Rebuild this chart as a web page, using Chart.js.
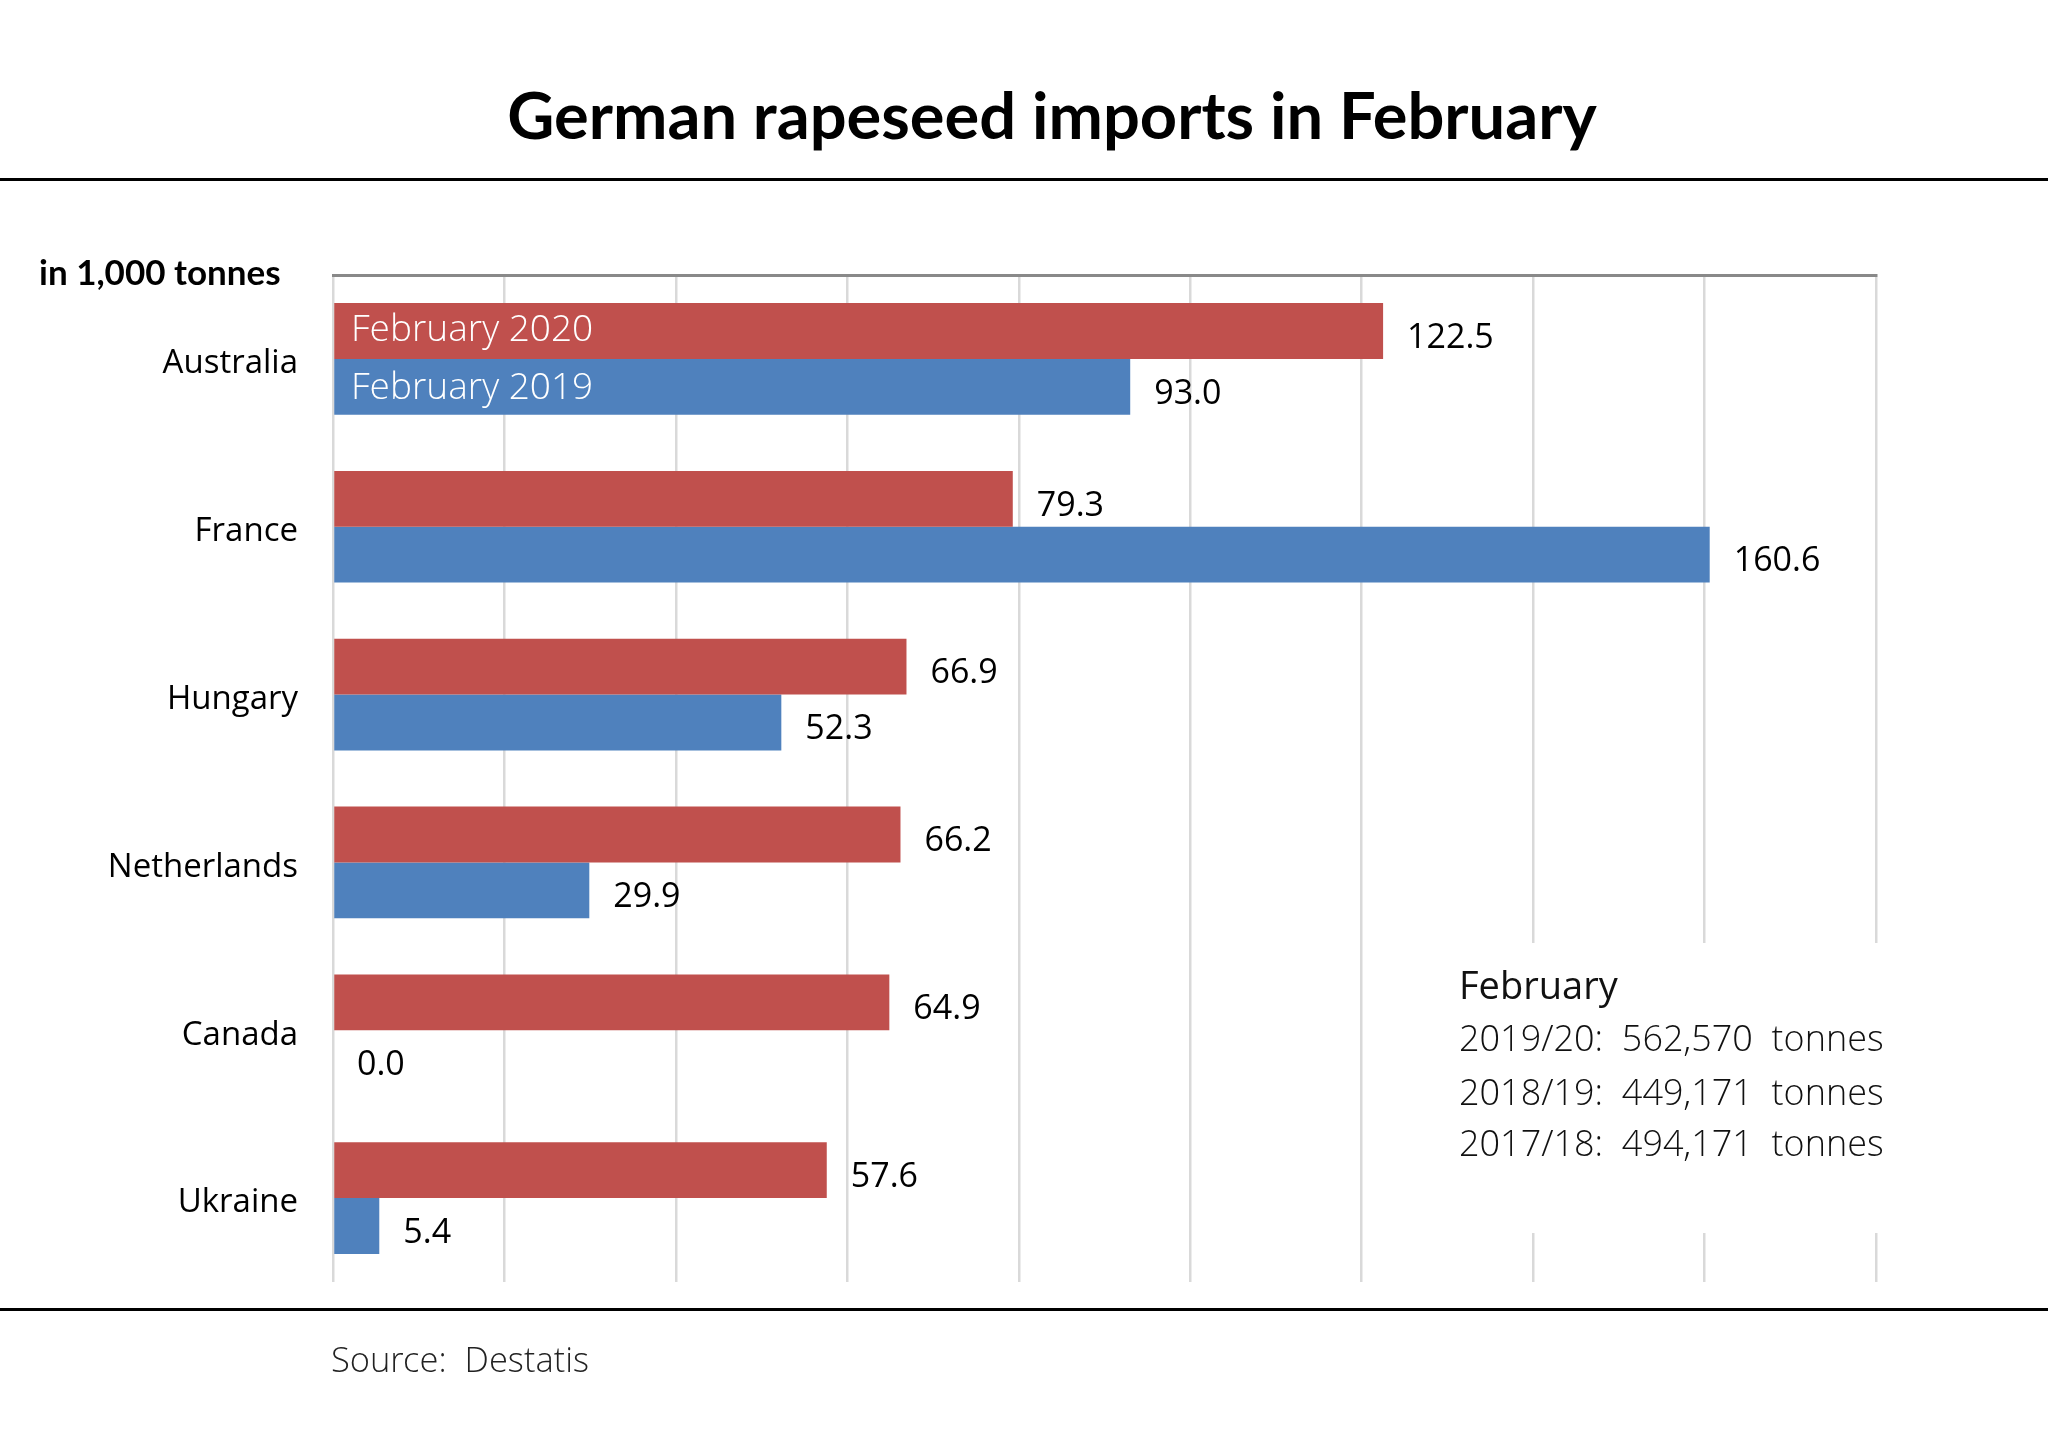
<!DOCTYPE html>
<html>
<head>
<meta charset="utf-8">
<script src="https://cdn.jsdelivr.net/npm/chart.js@4/dist/chart.umd.min.js"></script>
<style>
  html, body { margin: 0; padding: 0; background: #ffffff; }
  #wrap { width: 2048px; height: 1430px; position: relative; }
</style>
</head>
<body>
<div id="wrap"><canvas id="c" width="2048" height="1430"></canvas></div>
<script>
const categories = ["Australia", "France", "Hungary", "Netherlands", "Canada", "Ukraine"];
const seriesNames = ["February 2020", "February 2019"];
const feb2020 = [122.5, 79.3, 66.9, 66.2, 64.9, 57.6];
const feb2019 = [93.0, 160.6, 52.3, 29.9, 0.0, 5.4];
const xTicks = [0, 20, 40, 60, 80, 100, 120, 140, 160, 180];
const titleText = "German rapeseed imports in February";
const unitText = "in 1,000 tonnes";
const sourceText = "Source:  Destatis";
const noteTitle = "February";
const noteLines = ["2019/20:  562,570  tonnes", "2018/19:  449,171  tonnes", "2017/18:  494,171  tonnes"];

const RED = "#C0504D";
const BLUE = "#4F81BD";
const LIGHT = "300 FSIZEpx 'Open Sans Light', 'Open Sans'";
function light(size) { return LIGHT.replace("FSIZE", size); }

const decor = {
  id: "decor",
  beforeDatasetsDraw(chart) {
    const ctx = chart.ctx;
    ctx.save();
    ctx.fillStyle = "#ffffff";
    ctx.fillRect(1420, 943, 480, 290);
    ctx.restore();
  },
  afterDatasetsDraw(chart) {
    const ctx = chart.ctx;
    ctx.save();
    // value labels
    ctx.fillStyle = "#000000";
    ctx.font = "34px 'Open Sans'";
    ctx.textAlign = "left";
    ctx.textBaseline = "middle";
    chart.data.datasets.forEach((ds, di) => {
      const meta = chart.getDatasetMeta(di);
      meta.data.forEach((bar, i) => {
        ctx.fillText(ds.data[i].toFixed(1), bar.x + 24, bar.y + 7);
      });
    });
    // legend text inside first category bars
    ctx.fillStyle = "#ffffff";
    ctx.font = light(37);
    chart.data.datasets.forEach((ds, di) => {
      const bar = chart.getDatasetMeta(di).data[0];
      ctx.fillText(ds.label, chart.chartArea.left + 18, bar.y + (di === 1 ? 3 : 0));
    });
    ctx.restore();
  },
  afterDraw(chart) {
    const ctx = chart.ctx;
    const W = chart.width;
    ctx.save();
    // title
    ctx.fillStyle = "#000000";
    ctx.font = "bold 65px Lato";
    ctx.textAlign = "center";
    ctx.textBaseline = "alphabetic";
    ctx.fillText(titleText, 1052, 139);
    // rules
    ctx.fillStyle = "#000000";
    ctx.fillRect(0, 178, W, 3);
    ctx.fillRect(0, 1308, W, 3);
    // unit label
    ctx.textAlign = "left";
    ctx.textBaseline = "middle";
    ctx.font = "bold 35px Lato";
    ctx.fillText(unitText, 39, 274);
    // source
    ctx.fillStyle = "#222222";
    ctx.font = light(34.5);
    ctx.fillText(sourceText, 331, 1363);
    // note
    ctx.fillStyle = "#111111";
    ctx.font = "38px 'Open Sans'";
    ctx.fillText(noteTitle, 1459, 988);
    ctx.font = light(36);
    const ys = [1042, 1096, 1147];
    noteLines.forEach((t, i) => ctx.fillText(t, 1459, ys[i]));
    ctx.restore();
  }
};

new Chart(document.getElementById("c"), {
  type: "bar",
  data: {
    labels: categories,
    datasets: [
      { label: seriesNames[0], data: feb2020, backgroundColor: RED, borderWidth: 0 },
      { label: seriesNames[1], data: feb2019, backgroundColor: BLUE, borderWidth: 0 }
    ]
  },
  options: {
    indexAxis: "y",
    responsive: false,
    animation: false,
    devicePixelRatio: 1,
    categoryPercentage: 0.665,
    barPercentage: 1.0,
    layout: { padding: { top: 275, left: 0, right: 172, bottom: 148 } },
    plugins: {
      legend: { display: false },
      title: { display: false },
      tooltip: { enabled: false }
    },
    scales: {
      x: {
        position: "top",
        min: xTicks[0],
        max: xTicks[xTicks.length - 1],
        afterBuildTicks(scale) { scale.ticks = xTicks.map(v => ({ value: v })); },
        afterFit(scale) { scale.height = 0; },
        ticks: { display: false },
        grid: { color: "#D9D9D9", lineWidth: 2.5, drawTicks: false },
        border: { display: true, color: "#898989", width: 3 }
      },
      y: {
        afterFit(scale) { scale.width = 333; },
        grid: { display: false, drawTicks: false },
        border: { display: false },
        ticks: {
          color: "#000000",
          padding: 35,
          labelOffset: 5,
          font: { family: "'Open Sans'", size: 33 }
        }
      }
    }
  },
  plugins: [decor]
});
</script>
</body>
</html>
